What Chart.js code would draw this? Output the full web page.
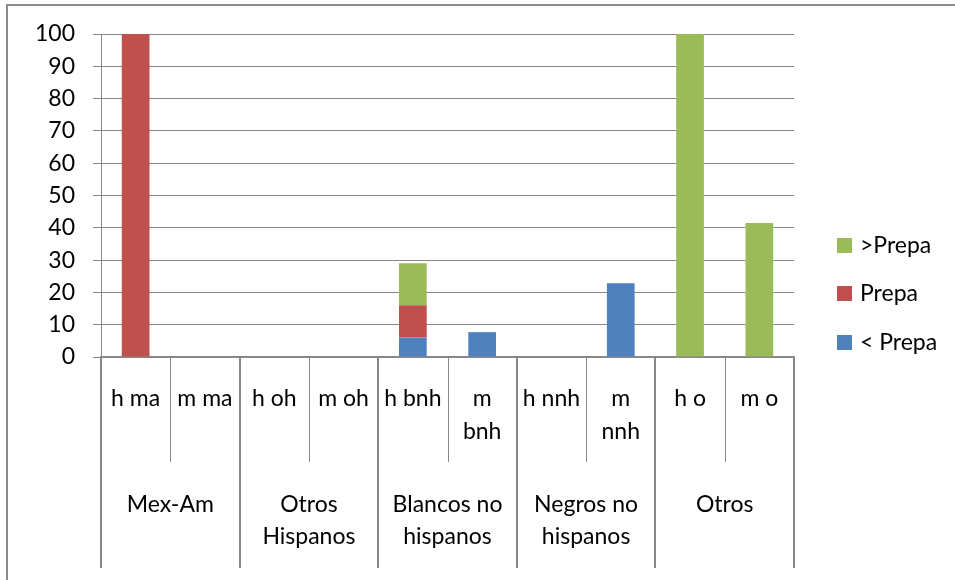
<!DOCTYPE html>
<html>
<head>
<meta charset="utf-8">
<script src="https://cdn.jsdelivr.net/npm/chart.js@4.4.1/dist/chart.umd.min.js"></script>
<style>
  html, body { margin: 0; padding: 0; background: #fff; }
  #wrap { position: relative; width: 955px; height: 580px; overflow: hidden; }
  #frame { position: absolute; left: 6px; top: 4px; width: 1000px; height: 700px;
           border-left: 2px solid #8c8c8c; border-top: 2px solid #8c8c8c; pointer-events: none; }
  canvas { display: block; }
</style>
</head>
<body>
<div id="wrap">
  <canvas id="c" width="955" height="580"></canvas>
  <div id="frame"></div>
</div>
<script>
// ---- data ----
const categories = ['h ma', 'm ma', 'h oh', 'm oh', 'h bnh', 'm bnh', 'h nnh', 'm nnh', 'h o', 'm o'];
const categoryLines = [['h ma'], ['m ma'], ['h oh'], ['m oh'], ['h bnh'], ['m', 'bnh'], ['h nnh'], ['m', 'nnh'], ['h o'], ['m o']];
const groupLabels = [['Mex-Am'], ['Otros', 'Hispanos'], ['Blancos no', 'hispanos'], ['Negros no', 'hispanos'], ['Otros']];
const groupSize = 2;
const seriesNames = ['< Prepa', 'Prepa', '>Prepa'];
const menosPrepa = [0, 0, 0, 0, 6, 7.7, 0, 22.8, 0, 0];
const prepa      = [100, 0, 0, 0, 10, 0, 0, 0, 0, 0];
const masPrepa   = [0, 0, 0, 0, 13, 0, 0, 0, 100, 41.5];
const yTicks = [0, 10, 20, 30, 40, 50, 60, 70, 80, 90, 100];

const colors = ['#4F81BD', '#C0504D', '#9BBB59'];
const FONT = 'Lato';
const FSIZE = 23;
const GRID = '#878787';

const hierLabels = {
  id: 'hierLabels',
  afterDraw(chart) {
    const ctx = chart.ctx;
    const x = chart.scales.x;
    const area = chart.chartArea;
    const n = categories.length;
    const bounds = [];
    for (let i = 0; i <= n; i++) {
      if (i === 0) bounds.push(area.left);
      else if (i === n) bounds.push(area.right);
      else bounds.push((x.getPixelForValue(i - 1) + x.getPixelForValue(i)) / 2);
    }
    ctx.save();
    // separator lines
    for (let i = 0; i <= n; i++) {
      const isGroup = i % groupSize === 0;
      ctx.beginPath();
      ctx.strokeStyle = GRID;
      ctx.lineWidth = isGroup ? 2 : 1;
      const px = Math.round(bounds[i]) + (isGroup ? 0 : 0.5);
      ctx.moveTo(px, area.bottom);
      ctx.lineTo(px, isGroup ? area.bottom + 211 : area.bottom + 105);
      ctx.stroke();
    }
    ctx.fillStyle = '#000';
    ctx.font = FSIZE + 'px ' + FONT;
    ctx.textAlign = 'center';
    ctx.textBaseline = 'middle';
    // category labels
    for (let i = 0; i < n; i++) {
      const cx = x.getPixelForValue(i);
      categoryLines[i].forEach((t, k) => ctx.fillText(t, cx, area.bottom + 42 + k * 33));
    }
    // group labels
    for (let g = 0; g < groupLabels.length; g++) {
      const cx = (bounds[g * groupSize] + bounds[(g + 1) * groupSize]) / 2;
      groupLabels[g].forEach((t, k) => ctx.fillText(t, cx, area.bottom + 148 + k * 32));
    }
    // legend (reverse order)
    const legendY = [245, 293, 342];
    for (let j = 0; j < seriesNames.length; j++) {
      const di = seriesNames.length - 1 - j;
      const ds = chart.data.datasets[di];
      ctx.fillStyle = ds.backgroundColor;
      ctx.fillRect(837, legendY[j] - 7, 15, 15);
      ctx.fillStyle = '#000';
      ctx.textAlign = 'left';
      ctx.fillText(ds.label, 860, legendY[j] + 1);
    }
    ctx.restore();
  }
};

new Chart(document.getElementById('c'), {
  type: 'bar',
  data: {
    labels: categories,
    datasets: [
      { label: seriesNames[0], data: menosPrepa, backgroundColor: colors[0] },
      { label: seriesNames[1], data: prepa, backgroundColor: colors[1] },
      { label: seriesNames[2], data: masPrepa, backgroundColor: colors[2] }
    ]
  },
  options: {
    responsive: false,
    animation: false,
    devicePixelRatio: 1,
    layout: { padding: { left: 0, top: 34, right: 161, bottom: 0 } },
    datasets: { bar: { barPercentage: 0.4, categoryPercentage: 1.0, borderWidth: 0 } },
    plugins: { legend: { display: false }, tooltip: { enabled: false } },
    scales: {
      x: {
        stacked: true,
        grid: { display: false },
        border: { display: true, color: GRID, width: 2 },
        ticks: { display: false },
        afterFit(s) { s.height = 223; }
      },
      y: {
        stacked: true,
        min: 0, max: 100,
        afterBuildTicks(s) { s.ticks = yTicks.map(v => ({ value: v })); },
        grid: { color: GRID, lineWidth: 1, tickLength: 8 },
        border: { display: true, color: GRID, width: 1 },
        ticks: { padding: 18, color: '#000', font: { family: FONT, size: FSIZE } },
        afterFit(s) { s.width = 101; }
      }
    }
  },
  plugins: [hierLabels]
});
</script>
</body>
</html>
